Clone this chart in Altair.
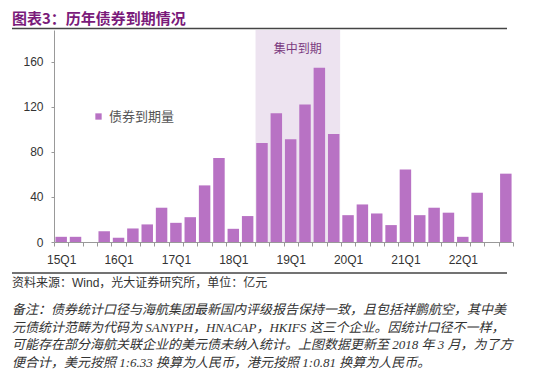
import json
import altair as alt
import pandas as pd

# ---- data ----
quarters = [f"{y}Q{q}" for y in range(15, 23) for q in range(1, 5)]
values = [4.6, 4.6, 0, 9.6, 3.7, 12.0, 15.6, 30.4,
          17.0, 22.0, 50.2, 74.5, 11.7, 23.0, 87.8, 114.2,
          91.1, 122.0, 154.5, 95.8, 23.8, 33.3, 25.3, 15.0,
          64.4, 23.8, 30.4, 26.0, 4.6, 43.7, 0, 60.6]
series_name = "债券到期量"
y_ticks = [0, 40, 80, 120, 160]
shade_start = "18Q3"
shade_end = "19Q4"
shade_label = "集中到期"
title_text = "图表3：历年债券到期情况"
source_text = "资料来源：Wind，光大证券研究所，单位：亿元"
note_lines = [
    "备注：债券统计口径与海航集团最新国内评级报告保持一致，且包括祥鹏航空，其中美",
    "元债统计范畴为代码为 SANYPH，HNACAP，HKIFS 这三个企业。因统计口径不一样，",
    "可能存在部分海航关联企业的美元债未纳入统计。上图数据更新至 2018 年 3 月，为了方",
    "便合计，美元按照 1:6.33 换算为人民币，港元按照 1:0.81 换算为人民币。",
]

BAR = "#b872c4"
SHADE = "#ede3f0"
PURPLE = "#7a1a7a"
YMAX = 188
W, H = 459, 212
CJK = "Noto Sans CJK SC"

n = len(quarters)
df = pd.DataFrame({
    "q": quarters,
    "i": list(range(n)),
    "v": values,
    "series": [series_name] * n,
})
df["x0"] = df["i"] - 0.4
df["x1"] = df["i"] + 0.4

i0 = quarters.index(shade_start)
i1 = quarters.index(shade_end)
shade_df = pd.DataFrame({"x0": [i0 - 0.45], "x1": [i1 + 0.45], "y0": [0], "y1": [YMAX],
                         "xm": [(i0 + i1) / 2], "label": [shade_label], "ly": [171]})

xscale = alt.Scale(domain=[-0.5, n - 0.5], nice=False, zero=False)
yscale = alt.Scale(domain=[0, YMAX], nice=False)

tick_vals = sorted([k - 0.5 for k in range(n + 1)] + [k for k in range(0, n, 4)])
label_expr = "datum.value % 4 === 0 ? " + json.dumps(quarters) + "[datum.value] : ''"

xaxis = alt.Axis(values=tick_vals, labelExpr=label_expr, title=None, grid=False,
                 tickSize=4, tickColor="#999999", domainColor="#999999",
                 tickOpacity={"condition": {"test": "datum.value % 1 === 0", "value": 0}, "value": 1},
                 labelFont="Liberation Sans", labelFontSize=12, labelColor="#333333",
                 labelPadding=8, labelOverlap=False, labelFlush=False, labelBound=False)
yaxis = alt.Axis(values=y_ticks, title=None, grid=False, tickSize=3,
                 tickColor="#999999", domainColor="#999999",
                 labelFont="Liberation Sans", labelFontSize=12, labelColor="#333333",
                 labelPadding=8)

shade = alt.Chart(shade_df).mark_rect(color=SHADE).encode(
    x=alt.X("x0:Q", scale=xscale, axis=xaxis),
    x2="x1:Q",
    y=alt.Y("y0:Q", scale=yscale, axis=yaxis),
    y2="y1:Q",
)
shade_txt = alt.Chart(shade_df).mark_text(font=CJK, fontSize=12, color="#7b3b80",
                                          baseline="middle").encode(
    x=alt.X("xm:Q", scale=xscale, axis=xaxis), y=alt.Y("ly:Q", scale=yscale, axis=yaxis),
    text="label:N")

bars = alt.Chart(df).mark_rect().encode(
    x=alt.X("x0:Q", scale=xscale, axis=xaxis),
    x2="x1:Q",
    y=alt.Y("v:Q", scale=yscale, axis=yaxis),
    y2=alt.datum(0),
    color=alt.Color("series:N", scale=alt.Scale(range=[BAR]),
                    legend=alt.Legend(orient="none", legendX=38, legendY=80, title=None,
                                      symbolType="square", symbolSize=40, symbolStrokeWidth=0,
                                      labelFont=CJK, labelFontSize=13, labelColor="#555555")),
)

ann = pd.DataFrame({"t": [0]})
title = alt.Chart(ann).mark_text(text=title_text, font=CJK, fontSize=15, fontWeight="bold",
                                 color=PURPLE, align="left", baseline="middle").encode(
    x=alt.value(-42), y=alt.value(-10.8))
rule_top = alt.Chart(ann).mark_rule(color="#444444", strokeWidth=1.5).encode(
    x=alt.value(-42), x2=alt.value(453), y=alt.value(-1.5))
rule_bot = alt.Chart(ann).mark_rule(color="#444444", strokeWidth=1.5).encode(
    x=alt.value(-42), x2=alt.value(453), y=alt.value(243))
source = alt.Chart(ann).mark_text(text=source_text, font="Liberation Sans, " + CJK, fontSize=12,
                                  color="#333333", align="left", baseline="middle").encode(
    x=alt.value(-42), y=alt.value(253))

layers = [shade, shade_txt, bars, title, rule_top, rule_bot, source]
for k, line in enumerate(note_lines):
    layers.append(alt.Chart(ann).mark_text(text=line, font="Liberation Serif, " + CJK, fontSize=13,
                                           fontStyle="italic", color="#333333",
                                           align="left", baseline="middle").encode(
        x=alt.value(-42), y=alt.value(280 + 17.6 * k)))

chart = alt.layer(*layers).properties(
    width=W, height=H,
    autosize=alt.AutoSizeParams(type="none"),
    padding={"left": 46, "top": 22, "right": 29, "bottom": 133},
    background="white",
).configure_view(stroke=None).configure_axisX(labelOverlap=False)

chart.save("out.html", embed_options={"renderer": "svg", "actions": False})
